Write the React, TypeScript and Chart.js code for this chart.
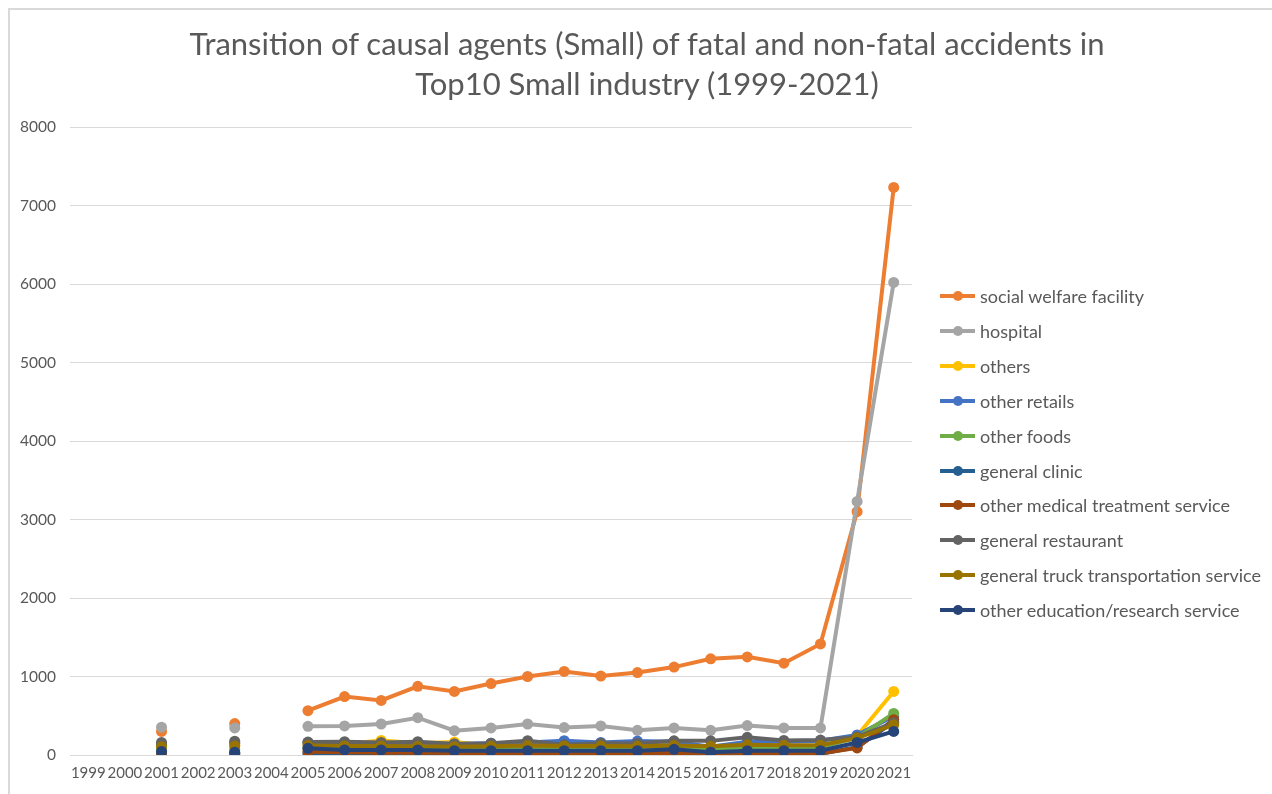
import React, { useEffect, useRef } from "react";
import { Chart, registerables } from "chart.js";

Chart.register(...registerables);

const years = ["1999","2000","2001","2002","2003","2004","2005","2006","2007","2008","2009","2010","2011","2012","2013","2014","2015","2016","2017","2018","2019","2020","2021"];

const seriesNames = [
  "social welfare facility",
  "hospital",
  "others",
  "other retails",
  "other foods",
  "general clinic",
  "other medical treatment service",
  "general restaurant",
  "general truck transportation service",
  "other education/research service",
];

const seriesColors = ["#ED7D31","#A5A5A5","#FFC000","#4472C4","#70AD47","#255E91","#9E480E","#636363","#997300","#264478"];

const socialWelfare = [null,null,300,null,400,null,565,745,695,875,810,910,1000,1065,1005,1050,1120,1225,1250,1170,1415,3100,7230];
const hospital = [null,null,355,null,345,null,365,370,395,475,310,345,395,350,370,315,345,315,375,345,345,3230,6020];
const others = [null,null,120,null,130,null,150,140,185,150,165,120,130,110,120,120,140,90,130,110,110,245,810];
const otherRetails = [null,null,140,null,150,null,160,150,150,155,140,150,160,183,160,178,170,105,170,170,183,255,495];
const otherFoods = [null,null,60,null,70,null,80,75,80,85,75,80,90,85,90,90,95,80,100,95,100,220,530];
const generalClinic = [null,null,20,null,20,null,20,20,15,20,15,15,20,15,15,15,20,15,20,15,15,100,420];
const otherMedical = [null,null,10,null,15,null,40,35,30,30,25,25,25,20,15,20,30,20,20,20,20,90,450];
const generalRestaurant = [null,null,160,null,175,null,165,170,160,170,140,150,183,130,150,150,180,180,225,185,190,230,410];
const truckTransport = [null,null,105,null,115,null,120,115,115,110,105,110,120,115,115,110,120,110,130,125,125,215,385];
const education = [null,null,45,null,35,null,85,65,65,65,55,55,55,55,55,55,72,35,55,55,55,160,300];

const seriesValues = [socialWelfare, hospital, others, otherRetails, otherFoods, generalClinic, otherMedical, generalRestaurant, truckTransport, education];

const yTicks = [0,1000,2000,3000,4000,5000,6000,7000,8000];

const FONT = "Lato, 'Open Sans', sans-serif";
const TEXT = "#595959";

export default function App() {
  const ref = useRef<HTMLCanvasElement | null>(null);

  useEffect(() => {
    if (!ref.current) return;
    const n = seriesNames.length;
    const chart = new Chart(ref.current, {
      type: "line",
      data: {
        labels: years,
        datasets: seriesNames.map((name, i) => ({
          label: name,
          data: seriesValues[i],
          borderColor: seriesColors[i],
          backgroundColor: seriesColors[i],
          borderWidth: 4,
          pointRadius: 5.5,
          pointBorderWidth: 0,
          pointBackgroundColor: seriesColors[i],
          spanGaps: false,
          tension: 0,
          order: n - i,
        })),
      },
      options: {
        animation: false,
        responsive: false,
        layout: { padding: { left: 0, top: 127, right: 360, bottom: 0 } },
        plugins: {
          legend: { display: false },
          title: { display: false },
          tooltip: { enabled: false },
        },
        scales: {
          x: {
            type: "category",
            offset: true,
            grid: { display: false, drawTicks: false },
            border: { display: true, color: "#d9d9d9", width: 1 },
            ticks: { color: TEXT, font: { family: FONT, size: 15 }, padding: 9, maxRotation: 0, autoSkip: false },
            afterFit: (s: any) => { s.height = 39; },
          },
          y: {
            min: 0,
            max: 8000,
            afterBuildTicks: (s: any) => { s.ticks = yTicks.map((v) => ({ value: v })); },
            grid: { color: "#d9d9d9", lineWidth: 1, drawTicks: false },
            border: { display: false },
            ticks: { color: TEXT, font: { family: FONT, size: 15.5 }, padding: 14, callback: (v: any) => String(v) },
            afterFit: (s: any) => { s.width = 70; },
          },
        },
      },
    });
    return () => chart.destroy();
  }, []);

  return (
    <div style={{ position: "absolute", left: 0, top: 0, width: 1272, height: 794, background: "#fff", overflow: "hidden" }}>
      <div style={{ position: "absolute", left: 8, top: 8, right: 0, bottom: 0, borderTop: "2px solid #d9d9d9", borderLeft: "2px solid #d9d9d9" }} />
      <canvas ref={ref} width={1272} height={794} style={{ position: "absolute", left: 0, top: 0, width: 1272, height: 794 }} />
      <div style={{ position: "absolute", left: 97, width: 1100, top: 23, textAlign: "center", fontFamily: FONT, fontSize: 31, lineHeight: "40px", color: TEXT, whiteSpace: "nowrap" }}>
        Transition of causal agents (Small) of fatal and non-fatal accidents in<br />Top10 Small industry (1999-2021)
      </div>
      <div style={{ position: "absolute", left: 940, top: 0 }}>
        {seriesNames.map((name, i) => (
          <div key={name} style={{ position: "absolute", top: 296 + i * 34.9 - 12, left: 0, height: 24, display: "flex", alignItems: "center", whiteSpace: "nowrap" }}>
            <div style={{ position: "relative", width: 35, height: 24, marginRight: 5 }}>
              <div style={{ position: "absolute", left: 0, width: 35, top: 10, height: 4, background: seriesColors[i] }} />
              <div style={{ position: "absolute", left: 12.5, top: 7, width: 10, height: 10, borderRadius: 5, background: seriesColors[i] }} />
            </div>
            <span style={{ fontFamily: FONT, fontSize: 18, color: TEXT }}>{name}</span>
          </div>
        ))}
      </div>
    </div>
  );
}
